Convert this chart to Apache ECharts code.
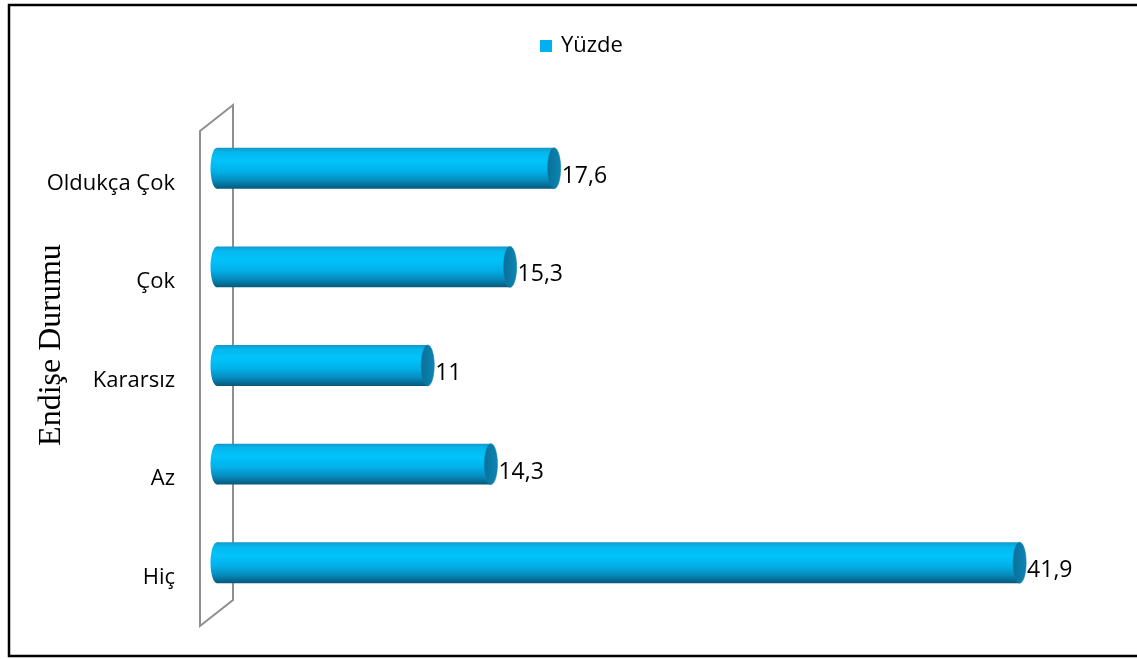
<!DOCTYPE html>
<html>
<head>
<meta charset="utf-8">
<script src="https://cdn.jsdelivr.net/npm/echarts@6/dist/echarts.min.js"></script>
<style>
  html, body { margin: 0; padding: 0; background: #fff; }
  #chart { width: 1137px; height: 659px; }
</style>
</head>
<body>
<div id="chart"></div>
<script>
// Worry levels, listed bottom to top
const categories = ['Hiç', 'Az', 'Kararsız', 'Çok', 'Oldukça Çok'];
// Percentage per level
const values = [41.9, 14.3, 11, 15.3, 17.6];
const seriesName = 'Yüzde';
const axisTitle = 'Endişe Durumu';

const FONT = '"Open Sans", "Liberation Sans", sans-serif';
const gridLeft = 217, gridTop = 119, gridWidth = 862, gridHeight = 493;

const chart = echarts.init(document.getElementById('chart'), null, { renderer: 'canvas' });

// Cylinder shading along the bar's thickness
const bodyFill = new echarts.graphic.LinearGradient(0, 0, 0, 1, [
  { offset: 0, color: '#1396c6' },
  { offset: 0.1, color: '#06b6ec' },
  { offset: 0.32, color: '#00c4fb' },
  { offset: 0.58, color: '#02b0e8' },
  { offset: 0.8, color: '#078bbd' },
  { offset: 1, color: '#05577a' }
]);
const capFill = new echarts.graphic.LinearGradient(0, 0, 1, 0, [
  { offset: 0, color: '#0a6f98' },
  { offset: 1, color: '#0c86b4' }
]);

function renderCylinder(params, api) {
  const v = api.value(0);
  const cat = api.value(1);
  const p0 = api.coord([0, cat]);
  const p1 = api.coord([v, cat]);
  const h = api.size([0, 1])[1] * 0.415;
  const rx = 6.5;
  const top = p0[1] - h / 2;
  return {
    type: 'group',
    children: [
      { type: 'ellipse', shape: { cx: p0[0], cy: p0[1], rx: rx, ry: h / 2 }, style: { fill: bodyFill } },
      { type: 'rect', shape: { x: p0[0], y: top, width: p1[0] - p0[0], height: h }, style: { fill: bodyFill } },
      { type: 'ellipse', shape: { cx: p1[0], cy: p1[1], rx: rx, ry: h / 2 }, style: { fill: capFill, stroke: '#0b7eaa', lineWidth: 0.6 } },
      {
        type: 'text',
        x: p1[0] + rx + 1, y: p1[1] + 8,
        style: {
          text: String(v).replace('.', ','),
          font: '23px ' + FONT, fill: '#000',
          align: 'left', verticalAlign: 'middle'
        }
      }
    ]
  };
}

chart.setOption({
  animation: false,
  backgroundColor: '#fff',
  legend: {
    top: 30, left: 535,
    icon: 'rect', itemWidth: 12, itemHeight: 12, itemGap: 8,
    textStyle: { fontFamily: FONT, fontSize: 22, color: '#000', padding: [0, 0, 0, 4] },
    data: [seriesName]
  },
  grid: { left: gridLeft, top: gridTop, width: gridWidth, height: gridHeight, containLabel: false },
  xAxis: { type: 'value', min: 0, max: 45, show: false },
  yAxis: {
    type: 'category', data: categories,
    axisLine: { show: false }, axisTick: { show: false }, splitLine: { show: false },
    axisLabel: { margin: 42, fontFamily: FONT, fontSize: 22, color: '#000', verticalAlign: 'top', lineHeight: 30 }
  },
  graphic: [
    {
      type: 'rect', z: 0, silent: true,
      shape: { x: 9, y: 5, width: 1140, height: 651 },
      style: { fill: null, stroke: '#000', lineWidth: 2.5 }
    },
    {
      // side wall of the category axis
      type: 'polygon', z: 0, silent: true,
      shape: { points: [[200, 131], [233, 105], [233, 600], [200, 626]] },
      style: { fill: null, stroke: '#8f8f8f', lineWidth: 2 }
    },
    {
      // category axis title
      type: 'text', z: 1, silent: true,
      x: 52, y: 345, rotation: Math.PI / 2,
      style: {
        text: axisTitle,
        font: '32px "Liberation Serif", "Times New Roman", serif',
        fill: '#000', align: 'center', verticalAlign: 'middle'
      }
    }
  ],
  series: [{
    name: seriesName, type: 'custom', z: 5,
    itemStyle: { color: '#00b0f0' },
    encode: { x: 0, y: 1 },
    renderItem: renderCylinder,
    data: values.map((v, i) => [v, i])
  }]
});
</script>
</body>
</html>
